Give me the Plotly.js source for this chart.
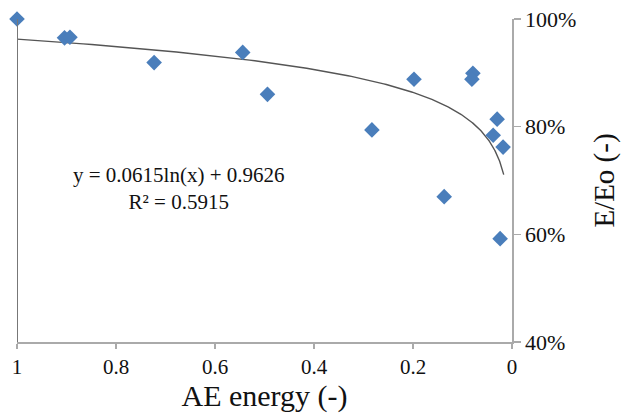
<!DOCTYPE html>
<html>
<head>
<meta charset="utf-8">
<script src="https://cdn.plot.ly/plotly-3.0.1.min.js"></script>
<style>html,body{margin:0;padding:0;background:#fff;}#chart{width:623px;height:416px;}</style>
</head>
<body>
<div id="chart"></div>
<script>
// Measured data points (AE energy, E/Eo)
var aeEnergy = [1.000, 0.904, 0.893, 0.723, 0.544, 0.494, 0.283, 0.198, 0.137, 0.079, 0.081, 0.030, 0.038, 0.018, 0.024];
var eRatio   = [1.000, 0.965, 0.966, 0.919, 0.938, 0.860, 0.794, 0.888, 0.670, 0.899, 0.888, 0.814, 0.784, 0.762, 0.592];

// Logarithmic trendline shown on the chart: y = a ln(x) + b
var trendA = 0.0615;
var trendB = 0.9626;
var trendXStart = 0.0167;
var trendXEnd = 1.0;

var xTickVals = [1, 0.8, 0.6, 0.4, 0.2, 0];
var xTickText = ['1', '0.8', '0.6', '0.4', '0.2', '0'];
var yTickVals = [0.4, 0.6, 0.8, 1.0];
var yTickText = ['40%', '60%', '80%', '100%'];

var trendX = [], trendY = [];
var n = 200;
for (var i = 0; i <= n; i++) {
  var lx = Math.log(trendXStart) + (Math.log(trendXEnd) - Math.log(trendXStart)) * i / n;
  var xv = Math.exp(lx);
  trendX.push(xv);
  trendY.push(trendA * Math.log(xv) + trendB);
}

var serif = "'Liberation Serif', 'Times New Roman', serif";

var data = [
  {x: trendX, y: trendY, mode: 'lines', type: 'scatter',
   line: {color: '#555555', width: 1.4}, hoverinfo: 'skip', cliponaxis: false},
  {x: aeEnergy, y: eRatio, mode: 'markers', type: 'scatter',
   marker: {symbol: 'diamond', size: 12, color: '#4A7EBB'}, cliponaxis: false}
];

var layout = {
  width: 623, height: 416,
  margin: {l: 17, r: 111, t: 19, b: 74},
  paper_bgcolor: '#fff', plot_bgcolor: '#fff',
  showlegend: false,
  font: {family: serif, color: '#111'},
  xaxis: {
    range: [1, 0], showgrid: false, zeroline: false,
    tickmode: 'array', tickvals: xTickVals, ticktext: xTickText,
    ticks: 'outside', ticklen: 5, tickcolor: '#aaaaaa', tickwidth: 1.5,
    showline: true, linecolor: '#aaaaaa', linewidth: 1.5,
    tickfont: {family: serif, size: 21, color: '#111'},
    title: {text: 'AE energy (-)', font: {family: serif, size: 30, color: '#111'}, standoff: 4}
  },
  yaxis: {
    range: [0.4, 1.0], side: 'right', showgrid: false, zeroline: false,
    tickmode: 'array', tickvals: yTickVals, ticktext: yTickText,
    ticks: 'outside', ticklen: 7, tickcolor: '#aaaaaa', tickwidth: 1.5,
    showline: true, linecolor: '#aaaaaa', linewidth: 1.5,
    tickfont: {family: serif, size: 22, color: '#111'},
    title: {text: 'E/Eo (-)', font: {family: serif, size: 29, color: '#111'}, standoff: 18}
  },
  shapes: [
    {type: 'line', xref: 'x', yref: 'y', x0: 1, x1: 1, y0: 0.4, y1: 1.015,
     line: {color: '#777777', width: 2}}
  ],
  annotations: [
    {xref: 'paper', yref: 'paper', x: 0.327, y: 0.475, xanchor: 'center', yanchor: 'middle',
     text: 'y = 0.0615ln(x) + 0.9626<br>R² = 0.5915', showarrow: false, align: 'center',
     font: {family: serif, size: 21, color: '#111'}}
  ]
};

Plotly.newPlot('chart', data, layout, {displayModeBar: false, staticPlot: true});
</script>
</body>
</html>
